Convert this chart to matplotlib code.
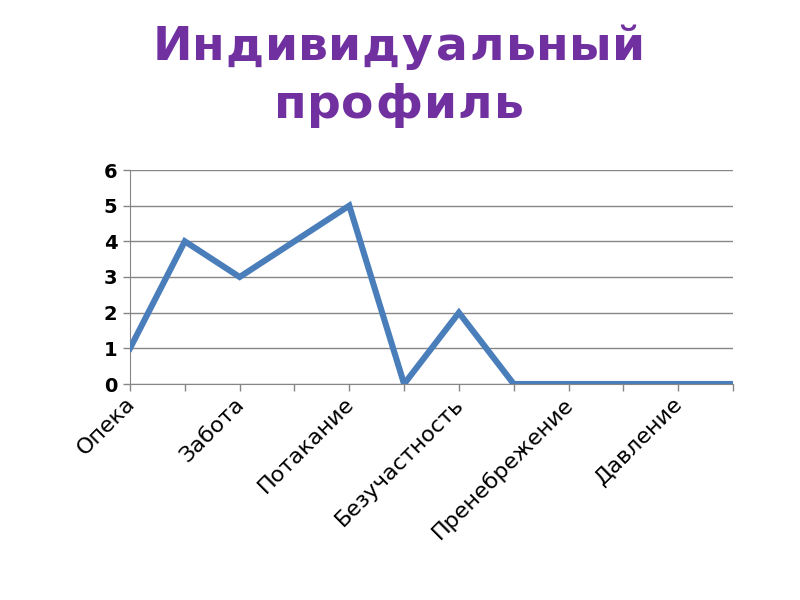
import matplotlib
matplotlib.use('Agg')
import matplotlib.pyplot as plt
from matplotlib.textpath import TextPath
from matplotlib.font_manager import FontProperties

# 12 categories, only every other one is labelled in the picture
labels = ['Опека', '', 'Забота', '', 'Потакание', '', 'Безучастность', '',
          'Пренебрежение', '', 'Давление', '']
values = [1, 4, 3, 4, 5, 0, 2, 0, 0, 0, 0, 0]
yticks = [0, 1, 2, 3, 4, 5, 6]
title_lines = ['Индивидуальный', 'профиль']

plt.rcParams['font.family'] = ['DejaVu Sans']

fig = plt.figure(figsize=(8, 6), dpi=100)
ax = fig.add_axes([130/800, 1 - 384/600, (733 - 130)/800, (384 - 170)/600])

x = list(range(len(values)))
ax.plot(x, values, color='#4A7EBB', linewidth=4.4, solid_joinstyle='miter', zorder=3)

ax.set_xlim(0, len(values) - 1)
ax.set_ylim(0, 6)
ax.set_yticks(yticks)
ax.set_yticklabels([str(v) for v in yticks], fontsize=14, fontweight='bold')
ax.set_xticks(x)
ax.set_xticklabels([])
# category labels, rotated, ending just left of their tick
for i, lab in enumerate(labels):
    if lab:
        ax.annotate(lab, xy=(i, 0), xycoords=('data', 'axes fraction'),
                    xytext=(-4, -7), textcoords='offset points',
                    rotation=45, ha='right', va='top', rotation_mode='anchor',
                    fontsize=16, annotation_clip=False)

ax.yaxis.grid(True, color='#868686', linewidth=1)
ax.set_axisbelow(True)
for s in ['top', 'right']:
    ax.spines[s].set_visible(False)
ax.spines['left'].set_color('#868686')
ax.spines['bottom'].set_color('#868686')
ax.tick_params(axis='both', color='#868686', length=5, width=1)
ax.tick_params(axis='y', pad=4)

# title with a bit of letter spacing, drawn char by char
fp = FontProperties(family='DejaVu Sans', weight='bold', size=34)
bar = TextPath((0, 0), '|', prop=fp).get_extents().width


def advances(line):
    return [(TextPath((0, 0), ch + '|', prop=fp).get_extents().width - bar) * 100 / 72
            for ch in line]


w0 = advances(title_lines[0])
spacing = (494 - sum(w0)) / (len(title_lines[0]) - 1)
for line, yc in zip(title_lines, [48, 106]):
    widths = advances(line)
    total = sum(widths) + spacing * (len(line) - 1)
    xpos = 400 - total / 2
    for ch, w in zip(line, widths):
        fig.text(xpos / 800, 1 - yc / 600, ch, ha='left', va='center',
                 fontproperties=fp, color='#7030A0')
        xpos += w + spacing

fig.savefig('out.png', dpi=100)
